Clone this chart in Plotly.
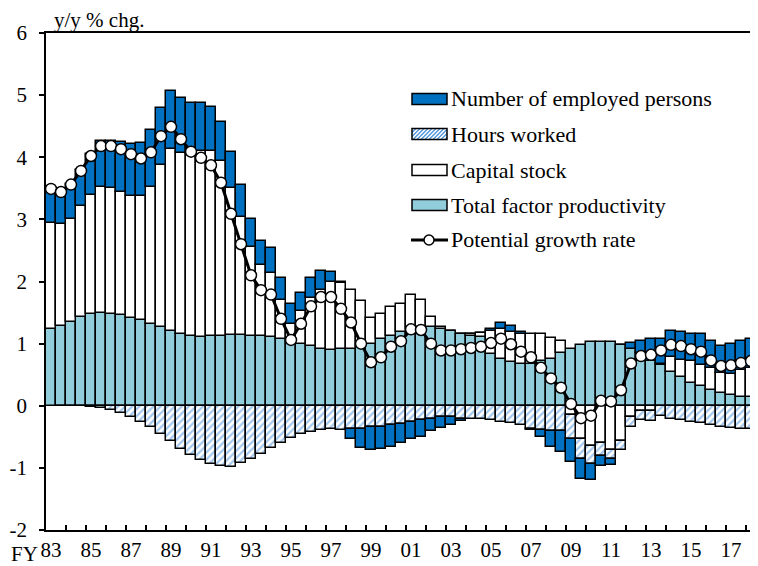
import plotly.graph_objects as go

# Half-year periods FY1983 H1 ... FY2018 H1 (71 periods)
periods = [f"FY{y % 100:02d} H{h}" for y in range(1983, 2019) for h in (1, 2)][:71]

tfp = [1.24, 1.28, 1.35, 1.43, 1.48, 1.50, 1.48, 1.46, 1.41, 1.38,
       1.32, 1.26, 1.20, 1.16, 1.13, 1.11, 1.12, 1.12, 1.14, 1.14,
       1.12, 1.12, 1.11, 1.08, 1.03, 1.00, 0.96, 0.92, 0.90, 0.91,
       0.92, 0.94, 1.00, 1.07, 1.12, 1.19, 1.23, 1.26, 1.27, 1.24,
       1.20, 1.15, 1.12, 1.10, 0.83, 0.75, 0.70, 0.67, 0.67, 0.72,
       0.76, 0.85, 0.92, 0.98, 1.02, 1.03, 1.02, 0.98, 0.92, 0.85,
       0.72, 0.65, 0.54, 0.46, 0.36, 0.31, 0.25, 0.20, 0.17, 0.14,
       0.14]
capital = [1.70, 1.64, 1.66, 1.78, 1.92, 2.02, 2.03, 1.98, 1.97, 1.99,
           2.20, 2.61, 2.93, 2.91, 2.92, 2.99, 2.98, 2.82, 2.36, 1.90,
           1.44, 1.14, 1.03, 0.62, 0.29, 0.52, 0.77, 0.95, 1.09, 1.06,
           0.95, 0.74, 0.41, 0.40, 0.47, 0.44, 0.55, 0.45, 0.16, 0.03,
           0.00, 0.00, 0.03, 0.07, 0.38, 0.48, 0.48, 0.49, 0.49, 0.43,
           0.33, 0.19, -0.15, -0.53, -0.65, -0.60, -0.71, -0.57, -0.18, -0.09,
           -0.09, 0.03, 0.25, 0.28, 0.36, 0.34, 0.35, 0.33, 0.34, 0.44,
           0.47]
hours = [0.00, -0.01, -0.01, -0.01, -0.02, -0.03, -0.07, -0.11, -0.18, -0.26,
         -0.35, -0.45, -0.57, -0.69, -0.79, -0.87, -0.93, -0.97, -0.98, -0.92,
         -0.85, -0.77, -0.68, -0.60, -0.52, -0.46, -0.42, -0.39, -0.37, -0.39,
         -0.38, -0.37, -0.35, -0.34, -0.31, -0.29, -0.26, -0.23, -0.21, -0.18,
         -0.18, -0.22, -0.22, -0.22, -0.23, -0.26, -0.28, -0.31, -0.37, -0.39,
         -0.41, -0.41, -0.38, -0.32, -0.28, -0.21, -0.14, -0.15, -0.16, -0.14,
         -0.15, -0.17, -0.21, -0.23, -0.26, -0.28, -0.31, -0.34, -0.36, -0.37,
         -0.38]
employed = [0.56, 0.53, 0.56, 0.58, 0.66, 0.74, 0.75, 0.81, 0.84, 0.86,
            0.92, 0.93, 0.93, 0.89, 0.83, 0.77, 0.71, 0.63, 0.58, 0.51,
            0.45, 0.40, 0.40, 0.35, 0.31, 0.30, 0.33, 0.30, 0.17, 0.02,
            -0.16, -0.31, -0.37, -0.36, -0.35, -0.31, -0.28, -0.28, -0.20, -0.18,
            -0.13, -0.02, 0.00, 0.00, 0.03, 0.11, 0.10, 0.02, -0.02, -0.12,
            -0.25, -0.34, -0.37, -0.33, -0.27, -0.16, -0.11, 0.00, 0.09, 0.19,
            0.35, 0.40, 0.41, 0.45, 0.44, 0.50, 0.44, 0.43, 0.49, 0.47,
            0.47]
potential = [3.49, 3.44, 3.56, 3.78, 4.02, 4.18, 4.18, 4.13, 4.05, 3.98,
             4.08, 4.34, 4.49, 4.29, 4.09, 3.99, 3.87, 3.59, 3.09, 2.60,
             2.10, 1.86, 1.79, 1.40, 1.06, 1.32, 1.60, 1.75, 1.75, 1.56,
             1.34, 1.00, 0.70, 0.78, 0.95, 1.04, 1.23, 1.22, 1.00, 0.89,
             0.89, 0.91, 0.93, 0.95, 1.01, 1.08, 0.99, 0.87, 0.78, 0.61,
             0.44, 0.29, 0.03, -0.20, -0.16, 0.08, 0.07, 0.25, 0.68, 0.80,
             0.82, 0.89, 0.98, 0.96, 0.91, 0.87, 0.73, 0.64, 0.65, 0.69,
             0.72]

tick_idx = list(range(0, 71, 4))
tick_text = [periods[i][2:4] for i in tick_idx]
y_ticks = [-2, -1, 0, 1, 2, 3, 4, 5, 6]
y_text = ["-2", "-1", "0", "1", "2", "3", "4", "5", "6"]

C_EMP = "#0070C0"
C_TFP = "#92CDDC"
C_HATCH = "#4A90D9"
FONT = "Liberation Serif"

x = list(range(len(tfp)))
outline = dict(color="black", width=1.5)

fig = go.Figure()
fig.add_trace(go.Bar(x=x, y=tfp, name="Total factor productivity",
                     marker=dict(color=C_TFP, line=outline), customdata=periods))
fig.add_trace(go.Bar(x=x, y=capital, name="Capital stock",
                     marker=dict(color="white", line=outline), customdata=periods))
fig.add_trace(go.Bar(x=x, y=hours, name="Hours worked",
                     marker=dict(color="white", line=outline,
                                 pattern=dict(shape="/", fgcolor=C_HATCH, size=5, solidity=0.45)),
                     customdata=periods))
fig.add_trace(go.Bar(x=x, y=employed, name="Number of employed persons",
                     marker=dict(color=C_EMP, line=outline), customdata=periods))
fig.add_trace(go.Scatter(x=x, y=potential, name="Potential growth rate", mode="lines+markers",
                         line=dict(color="black", width=3),
                         marker=dict(symbol="circle", size=11, color="white",
                                     line=dict(color="black", width=1.5))))

# page offset of the figure inside the browser window (body margin)
OFF = 8
W, H = 758, 566
# plot area in window pixels
L, R, T, B = 46, 760, 33, 530
def px(xv):
    return (xv - L) / (R - L)
def py(yv):
    return (B - yv) / (B - T)

shapes = []
annotations = []

annotations.append(dict(text="y/y % chg.", x=px(52), y=py(20), xref="paper", yref="paper",
                        xanchor="left", yanchor="middle", showarrow=False,
                        font=dict(family=FONT, size=21, color="black")))
annotations.append(dict(text="FY", x=px(40), y=py(554), xref="paper", yref="paper",
                        xanchor="right", yanchor="middle", showarrow=False,
                        font=dict(family=FONT, size=21, color="black")))

# manual legend
legend_items = [("Number of employed persons", "solid", C_EMP, 99),
                ("Hours worked", "hatch", None, 134),
                ("Capital stock", "solid", "white", 170),
                ("Total factor productivity", "solid", C_TFP, 205),
                ("Potential growth rate", "line", None, 240)]
sx0, sx1 = 412, 447
for label, kind, col, yc in legend_items:
    if kind == "solid":
        shapes.append(dict(type="rect", xref="paper", yref="paper",
                           x0=px(sx0), x1=px(sx1), y0=py(yc + 5.5), y1=py(yc - 5.5),
                           fillcolor=col, line=dict(color="black", width=1.5)))
    elif kind == "hatch":
        y_b, y_t = yc + 5.5, yc - 5.5
        h = y_b - y_t
        shapes.append(dict(type="rect", xref="paper", yref="paper",
                           x0=px(sx0), x1=px(sx1), y0=py(y_b), y1=py(y_t),
                           fillcolor="white", line=dict(width=0)))
        t = sx0 - h
        while t < sx1:
            s0 = max(0.0, (sx0 - t) / h)
            s1 = min(1.0, (sx1 - t) / h)
            if s1 > s0:
                shapes.append(dict(type="line", xref="paper", yref="paper",
                                   x0=px(t + s0 * h), y0=py(y_b - s0 * h),
                                   x1=px(t + s1 * h), y1=py(y_b - s1 * h),
                                   line=dict(color=C_HATCH, width=1.3)))
            t += 4
        shapes.append(dict(type="rect", xref="paper", yref="paper",
                           x0=px(sx0), x1=px(sx1), y0=py(y_b), y1=py(y_t),
                           fillcolor="rgba(0,0,0,0)", line=dict(color="black", width=1.5)))
    else:
        shapes.append(dict(type="line", xref="paper", yref="paper",
                           x0=px(sx0 - 1), x1=px(sx1 + 1), y0=py(yc), y1=py(yc),
                           line=dict(color="black", width=3)))
        shapes.append(dict(type="circle", xref="paper", yref="paper",
                           x0=px(424), x1=px(434), y0=py(yc + 5), y1=py(yc - 5),
                           fillcolor="white", line=dict(color="black", width=1.5)))
    annotations.append(dict(text=label, x=px(449), y=py(yc), xref="paper", yref="paper",
                            xanchor="left", yanchor="middle", showarrow=False,
                            font=dict(family=FONT, size=22, color="black")))

fig.update_layout(
    width=W, height=H,
    margin=dict(l=L - OFF, r=W - (R - OFF), t=T - OFF, b=H - (B - OFF), autoexpand=False),
    barmode="relative", bargap=0,
    plot_bgcolor="white", paper_bgcolor="white",
    showlegend=False,
    font=dict(family=FONT, size=21, color="black"),
    shapes=shapes, annotations=annotations,
    xaxis=dict(range=[-0.5, 70.9], showline=True, linecolor="black", linewidth=1.5,
               mirror=True, showgrid=False, zeroline=False, automargin=False,
               tickmode="array", tickvals=tick_idx, ticktext=tick_text, ticks="",
               minor=dict(tickmode="array", tickvals=[i + 1.5 for i in range(0, 70, 2)],
                          ticks="inside", ticklen=5, tickwidth=1.5, tickcolor="black",
                          showgrid=False),
               tickfont=dict(family=FONT, size=21, color="black")),
    yaxis=dict(range=[-2, 6], showline=True, linecolor="black", linewidth=1.5,
               mirror=True, showgrid=False, zeroline=False, automargin=False,
               tickmode="array", tickvals=y_ticks, ticktext=y_text,
               ticks="outside", ticklen=5, tickwidth=1.5, tickcolor="black",
               ticklabelstandoff=8,
               tickfont=dict(family=FONT, size=21, color="black")),
)

fig.write_html("out.html")
